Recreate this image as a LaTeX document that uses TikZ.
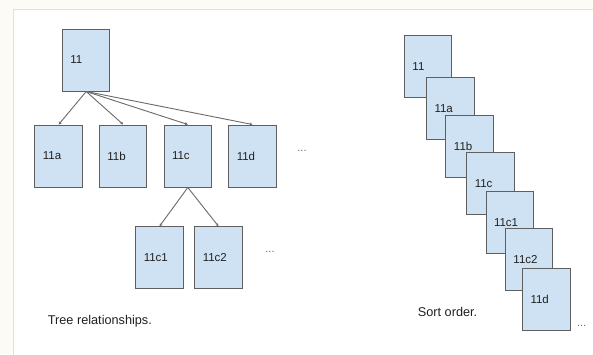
\documentclass[tikz,border=0pt]{standalone}
\usepackage{fontspec}
\setmainfont{Liberation Sans}
\usetikzlibrary{arrows.meta}
\definecolor{pagebg}{HTML}{FCFBF6}
\definecolor{panelline}{HTML}{E3E1DE}
\definecolor{boxfill}{HTML}{CFE2F3}
\definecolor{boxline}{HTML}{5F5F5F}
\definecolor{arrowline}{HTML}{6A6A6A}
\definecolor{txt}{HTML}{202020}
\tikzset{
  card/.style={draw=boxline, line width=1pt, fill=boxfill, text=txt,
    font=\fontsize{11.5}{13}\selectfont, inner xsep=8pt, inner ysep=0pt,
    text width=31.5pt, minimum height=62pt, align=left},
  link/.style={draw=arrowline, line width=0.9pt, -{Stealth[length=3pt,width=3pt]}},
  caption/.style={text=txt, font=\fontsize{12.7}{15}\selectfont, inner sep=0pt, anchor=west},
  dots/.style={text=arrowline, font=\fontsize{11}{13}\selectfont, inner sep=0pt, anchor=base}
}
\begin{document}
\begin{tikzpicture}[x=1pt,y=-1pt]
\useasboundingbox (0,0) rectangle (593,354);
\fill[pagebg] (0,0) rectangle (593,354);
\draw[panelline, fill=white, line width=0.8pt] (13,360) -- (13,9.5) -- (600,9.5) -- (600,360) -- cycle;
% tree
\node[card] (t11) at (86.2,60) {11};
\node[card] (t11a) at (58.7,156) {11a};
\node[card] (t11b) at (123.2,156) {11b};
\node[card] (t11c) at (187.8,156) {11c};
\node[card] (t11d) at (252.5,156) {11d};
\node[card] (t11c1) at (159.5,257.8) {11c1};
\node[card] (t11c2) at (218.5,257.8) {11c2};
\node[dots] (tdots1) at (302,151) {...};
\node[dots] (tdots2) at (270,252.5) {...};
\draw[link] (t11.south) -- (t11a.north);
\draw[link] (t11.south) -- (t11b.north);
\draw[link] (t11.south) -- (t11c.north);
\draw[link] (t11.south) -- (t11d.north);
\draw[link] (t11c.south) -- (t11c1.north);
\draw[link] (t11c.south) -- (t11c2.north);
\node[caption] (tcap) at (47.7,321.7) {Tree relationships.};
% sort order
\node[card] (s11) at (428.2,66.2) {11};
\node[card] (s11a) at (450.3,108.2) {11a};
\node[card] (s11b) at (469.7,146.8) {11b};
\node[card] (s11c) at (490.5,183.8) {11c};
\node[card] (s11c1) at (509.8,222.5) {11c1};
\node[card] (s11c2) at (529.2,259.8) {11c2};
\node[card] (s11d) at (546.3,299.2) {11d};
\node[dots] (sdots) at (581.7,326) {...};
\node[caption] (scap) at (417.7,311.7) {Sort order.};
\end{tikzpicture}
\end{document}
